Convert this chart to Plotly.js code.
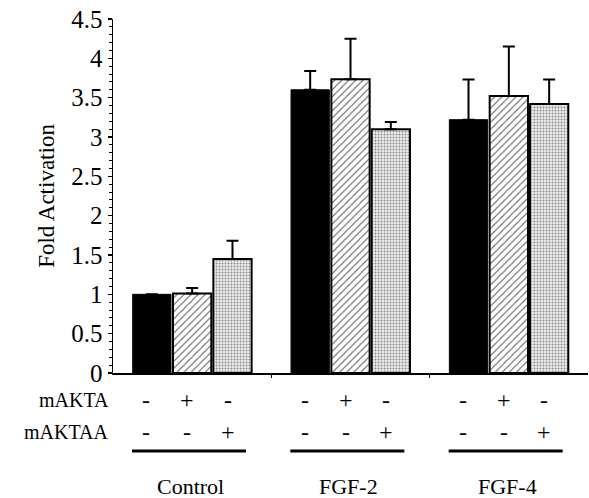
<!DOCTYPE html>
<html>
<head>
<meta charset="utf-8">
<script src="https://cdn.plot.ly/plotly-3.0.1.min.js"></script>
<style>html,body{margin:0;padding:0;background:#fff;}#chart{width:589px;height:498px;}</style>
</head>
<body>
<div id="chart"></div>
<script>
var categories = ["Control", "FGF-2", "FGF-4"];
var valsNone = [1.00, 3.60, 3.22];
var errNone = [0, 0.24, 0.51];
var valsA = [1.01, 3.735, 3.52];
var errA = [0.07, 0.515, 0.63];
var valsAA = [1.45, 3.10, 3.42];
var errAA = [0.23, 0.09, 0.31];
var rowLabels = ["mAKTA", "mAKTAA"];
var signsA = [["-", "+", "-"], ["-", "+", "-"], ["-", "+", "-"]];
var signsAA = [["-", "-", "+"], ["-", "-", "+"], ["-", "-", "+"]];
var yTicks = [0, 0.5, 1, 1.5, 2, 2.5, 3, 3.5, 4, 4.5];
var yTickText = ["0", "0.5", "1", "1.5", "2", "2.5", "3", "3.5", "4", "4.5"];

var FONT = "Liberation Serif, Times New Roman, serif";
var zeros = [0, 0, 0];
function errObj(arr) {
  return {type: "data", symmetric: false, array: arr, arrayminus: zeros,
          color: "#000", thickness: 2, width: 6};
}
var xIdx = categories.map(function (c, i) { return i; });

var traces = [
  {type: "bar", x: xIdx, y: valsNone, name: "control",
   marker: {color: "#000", line: {color: "#000", width: 1}},
   error_y: errObj(errNone)},
  {type: "bar", x: xIdx, y: valsA, name: "mAKTA",
   marker: {color: "#fff", line: {color: "#000", width: 2},
            pattern: {shape: "/", fgcolor: "#555", bgcolor: "#fff", size: 5, solidity: 0.2}},
   error_y: errObj(errA)},
  {type: "bar", x: xIdx, y: valsAA, name: "mAKTAA",
   marker: {color: "#fff", line: {color: "#000", width: 2},
            pattern: {shape: ".", fgcolor: "#888", bgcolor: "#ececec", size: 3, solidity: 0.3}},
   error_y: errObj(errAA)}
];

var ann = [];
var shapes = [];
var offs = [-0.29, -0.03, 0.225];
var rowY = [-0.076, -0.166];
rowLabels.forEach(function (lab, r) {
  ann.push({xref: "paper", yref: "paper", x: -0.004, y: rowY[r], xanchor: "right", yanchor: "middle",
            text: lab, showarrow: false, font: {family: FONT, size: 20, color: "#000"}});
});
categories.forEach(function (cat, g) {
  for (var k = 0; k < 3; k++) {
    ann.push({xref: "x", yref: "paper", x: g + offs[k], y: rowY[0], xanchor: "center", yanchor: "middle",
              text: signsA[g][k], showarrow: false, font: {family: FONT, size: 24, color: "#000"}});
    ann.push({xref: "x", yref: "paper", x: g + offs[k], y: rowY[1], xanchor: "center", yanchor: "middle",
              text: signsAA[g][k], showarrow: false, font: {family: FONT, size: 24, color: "#000"}});
  }
  shapes.push({type: "line", xref: "x", yref: "paper", x0: g - 0.38, x1: g + 0.34, y0: -0.22, y1: -0.22,
               line: {color: "#000", width: 3}});
  ann.push({xref: "x", yref: "paper", x: g - 0.01, y: -0.322, xanchor: "center", yanchor: "middle",
            text: cat, showarrow: false, font: {family: FONT, size: 22, color: "#000"}});
});

var layout = {
  width: 589, height: 498,
  margin: {l: 113, r: 1, t: 19, b: 125},
  paper_bgcolor: "#fff", plot_bgcolor: "#fff",
  showlegend: false,
  barmode: "group", bargap: 0.236, bargroupgap: 0.05,
  font: {family: FONT, size: 22, color: "#000"},
  xaxis: {range: [-0.5, 2.5], showgrid: false, zeroline: false, showline: true, linecolor: "#000", linewidth: 1.5,
          tickmode: "array", tickvals: [0.5, 1.5], ticks: "outside", ticklen: 3, tickcolor: "#000",
          showticklabels: false},
  yaxis: {range: [0, 4.5], showgrid: false, zeroline: false, showline: true, linecolor: "#000", linewidth: 1.5,
          tickmode: "array", tickvals: yTicks, ticktext: yTickText, ticks: "outside", ticklen: 4, tickcolor: "#000",
          tickwidth: 1.5, tickfont: {family: FONT, size: 25, color: "#000"},
          minor: {dtick: 0.1, ticks: "outside", ticklen: 3, tickcolor: "#000", tickwidth: 1},
          title: {text: "Fold Activation", font: {family: FONT, size: 23, color: "#000"}, standoff: 10}},
  annotations: ann, shapes: shapes
};
Plotly.newPlot("chart", traces, layout, {displayModeBar: false, staticPlot: true});
</script>
</body>
</html>
